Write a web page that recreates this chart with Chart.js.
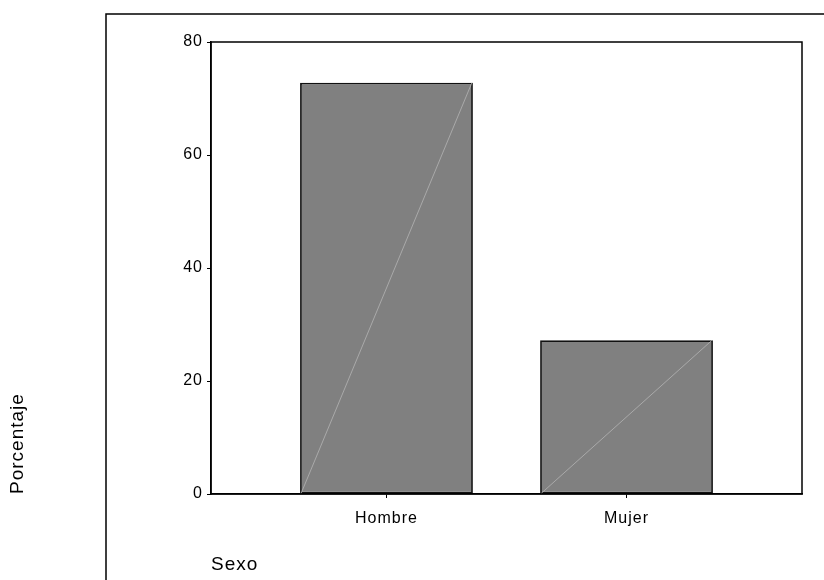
<!DOCTYPE html>
<html>
<head>
<meta charset="utf-8">
<title>Sexo - Porcentaje</title>
<script src="https://cdn.jsdelivr.net/npm/chart.js@4/dist/chart.umd.min.js"></script>
<style>
  html, body { margin: 0; padding: 0; background: #ffffff; }
  canvas { display: block; }
</style>
</head>
<body>
<canvas id="sexoChart" width="824" height="580"></canvas>
<script>
// datos del gráfico
const categories = ['Hombre', 'Mujer'];
const percentages = [72.8, 27.2];
const yTicks = [0, 20, 40, 60, 80];

const FONT = 'Liberation Sans, Arial, Helvetica, sans-serif';

// marco exterior, caja del área y diagonales de las barras
const framePlugin = {
    id: 'frame',
    beforeDraw(chart) {
        const ctx = chart.ctx;
        ctx.letterSpacing = '1px';
        ctx.save();
        ctx.strokeStyle = '#000';
        ctx.lineWidth = 1.5;
        ctx.beginPath();
        ctx.moveTo(106, chart.height);
        ctx.lineTo(106, 14);
        ctx.lineTo(chart.width, 14);
        ctx.stroke();
        ctx.restore();
    },
    afterDatasetsDraw(chart) {
        const ctx = chart.ctx;
        const meta = chart.getDatasetMeta(0);
        ctx.save();
        ctx.strokeStyle = '#b4b4b4';
        ctx.lineWidth = 0.8;
        meta.data.forEach(bar => {
            const p = bar.getProps(['x', 'y', 'base', 'width'], true);
            ctx.beginPath();
            ctx.moveTo(p.x - p.width / 2 + 1, p.base);
            ctx.lineTo(p.x + p.width / 2 - 1, p.y);
            ctx.stroke();
        });
        ctx.restore();
    },
    afterDraw(chart) {
        const a = chart.chartArea;
        const ctx = chart.ctx;
        ctx.save();
        ctx.strokeStyle = '#000';
        ctx.lineWidth = 1.5;
        ctx.strokeRect(a.left, a.top, a.right - a.left, a.bottom - a.top);
        ctx.restore();
    }
};

new Chart(document.getElementById('sexoChart'), {
    type: 'bar',
    data: {
        datasets: [{
            data: categories.map((c, i) => ({ x: i, y: percentages[i] })),
            backgroundColor: '#808080',
            borderColor: '#111111',
            borderWidth: 1.8,
            borderSkipped: false,
            categoryPercentage: 1,
            barPercentage: 0.72
        }]
    },
    options: {
        responsive: false,
        animation: false,
        layout: { padding: { top: 42, right: 22, left: 0, bottom: 0 } },
        plugins: { legend: { display: false }, tooltip: { enabled: false } },
        scales: {
            x: {
                type: 'linear',
                offset: false,
                min: -0.731,
                max: 1.731,
                afterBuildTicks: s => { s.ticks = categories.map((c, i) => ({ value: i })); },
                afterFit: s => { s.height = 86; },
                grid: { offset: false, drawOnChartArea: false, tickLength: 4, color: '#000', lineWidth: 1 },
                border: { color: '#000', width: 1.5 },
                ticks: {
                    color: '#000',
                    padding: 11,
                    maxRotation: 0,
                    autoSkip: false,
                    font: { family: FONT, size: 16 },
                    callback: v => categories[v]
                },
                title: {
                    display: true,
                    text: 'Sexo',
                    align: 'start',
                    color: '#000',
                    font: { family: FONT, size: 19 },
                    padding: { top: 0, bottom: 4 }
                }
            },
            y: {
                min: 0,
                max: 80,
                afterBuildTicks: s => { s.ticks = yTicks.map(v => ({ value: v })); },
                afterFit: s => { s.width = 211; },
                grid: { drawOnChartArea: false, tickLength: 4, color: '#000', lineWidth: 1 },
                border: { color: '#000', width: 1.5 },
                ticks: {
                    color: '#000',
                    padding: 4,
                    font: { family: FONT, size: 16 }
                },
                title: {
                    display: true,
                    text: 'Porcentaje',
                    align: 'start',
                    color: '#000',
                    font: { family: FONT, size: 19 },
                    padding: { top: 6, bottom: 0 }
                }
            }
        }
    },
    plugins: [framePlugin]
});
</script>
</body>
</html>
